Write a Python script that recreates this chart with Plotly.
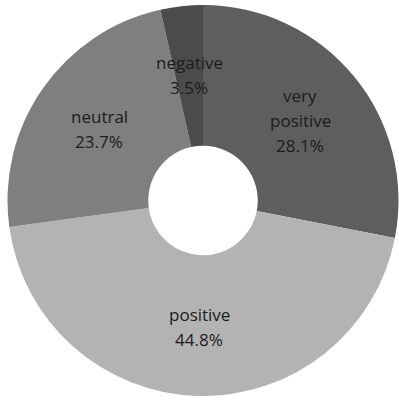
import math
import plotly.graph_objects as go

# Sentiment shares (percent)
categories = ["very positive", "positive", "neutral", "negative"]
shares = [28.1, 44.8, 23.7, 3.5]
label_lines = [["very", "positive"], ["positive"], ["neutral"], ["negative"]]
colors = ["#5e5e5e", "#b3b3b3", "#7f7f7f", "#4b4b4b"]

W, H = 399, 401
cx, cy, R = 203.0, 200.5, 195.5   # pie centre / radius in pixels
label_r = 0.645                    # label distance as a fraction of radius
line_gap = 25                      # pixel spacing between label lines

fig = go.Figure(go.Pie(
    labels=categories,
    values=shares,
    marker=dict(colors=colors, line=dict(width=0)),
    hole=0.28,
    sort=False,
    direction="clockwise",
    rotation=0,
    textinfo="none",
    hoverinfo="label+percent",
    domain=dict(x=[(cx - R) / W, (cx + R) / W],
                y=[(H - cy - R) / H, (H - cy + R) / H]),
    showlegend=False,
))

# Place each label at the mid-angle of its slice
total = sum(shares)
start = 0.0
annotations = []
for lines, v in zip(label_lines, shares):
    mid = (start + v / 2) / total * 2 * math.pi
    start += v
    px = cx + label_r * R * math.sin(mid)
    py = cy - label_r * R * math.cos(mid)
    all_lines = lines + [f"{v:.1f}%"]
    n = len(all_lines)
    for i, t in enumerate(all_lines):
        ly = py + (i - (n - 1) / 2) * line_gap
        annotations.append(dict(
            x=px / W, y=1 - ly / H, xref="paper", yref="paper",
            text=t, showarrow=False, xanchor="center", yanchor="middle",
            font=dict(family="Open Sans", size=17, color="#1c1c1c"),
        ))

fig.update_layout(
    width=W, height=H,
    margin=dict(l=0, r=0, t=0, b=0),
    paper_bgcolor="white",
    plot_bgcolor="white",
    annotations=annotations,
)

fig.write_html("out.html")
